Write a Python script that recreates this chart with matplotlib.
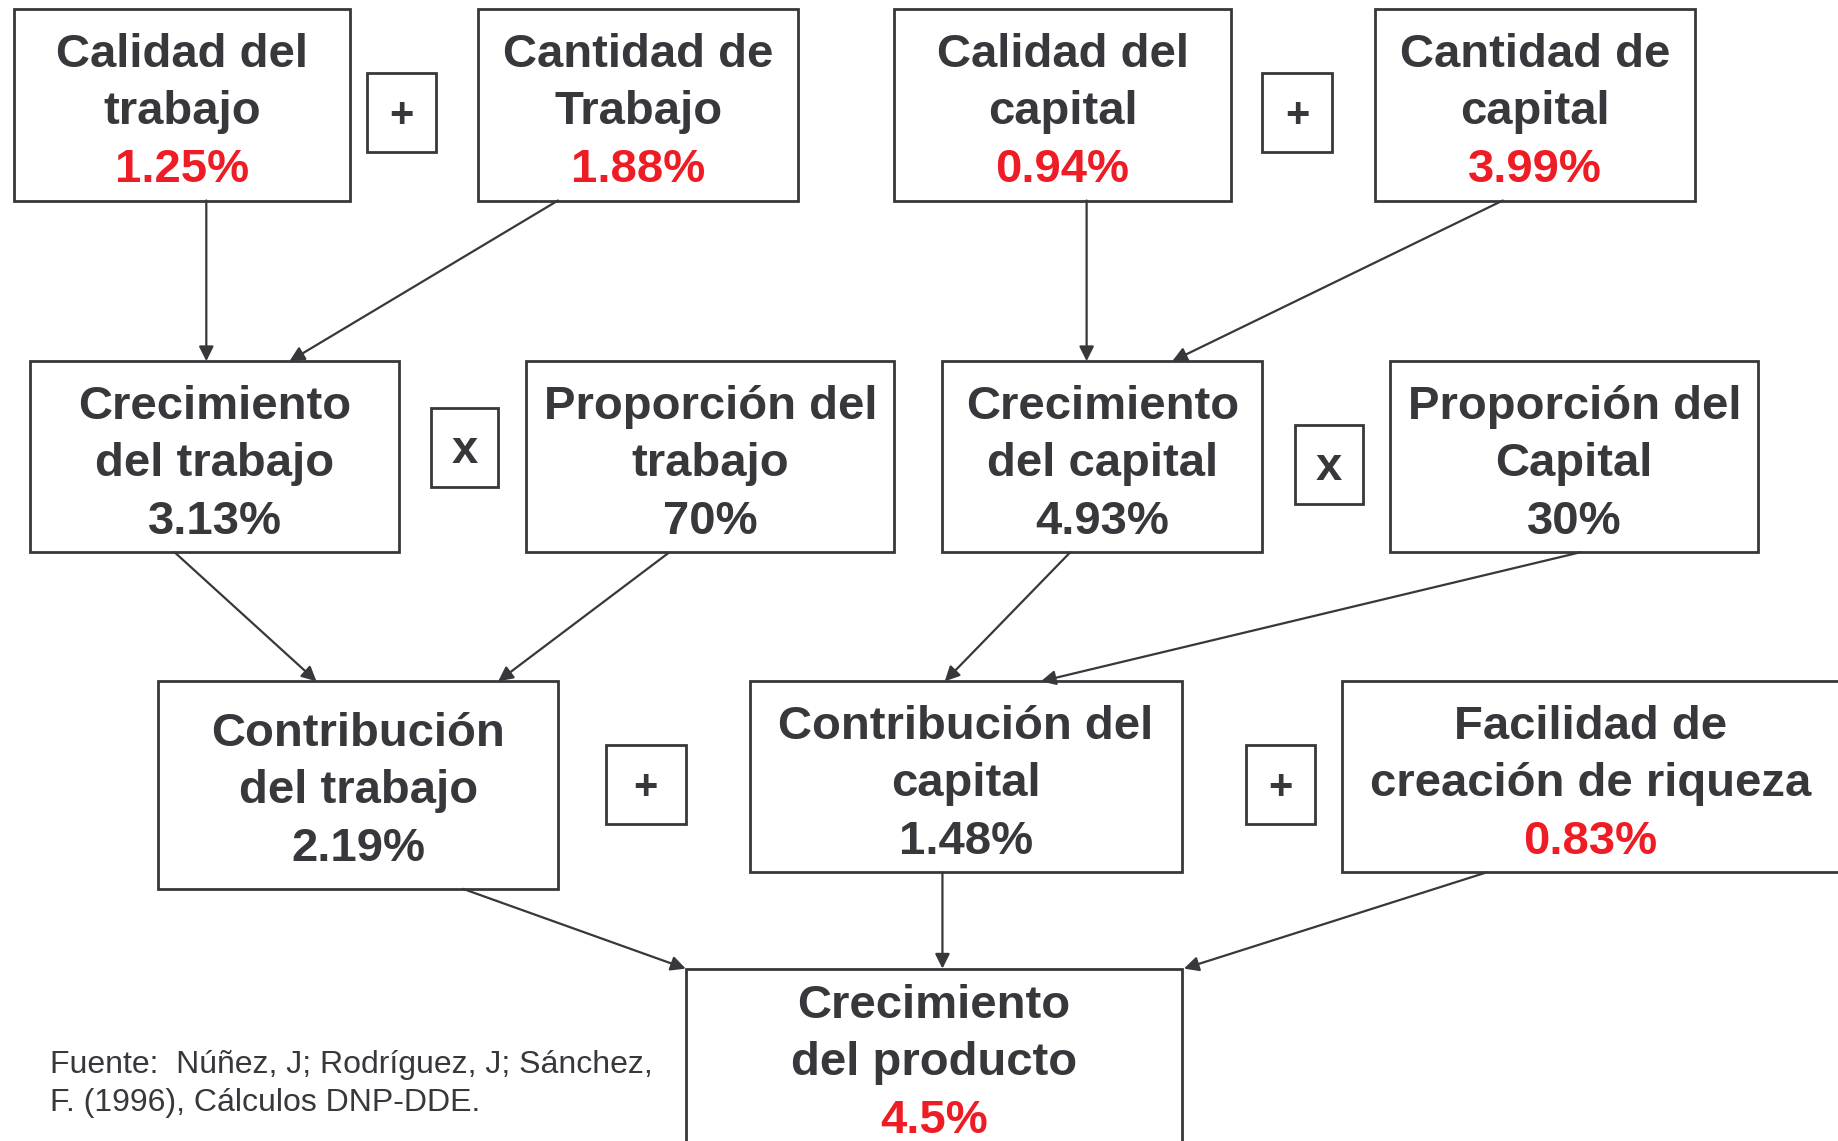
import matplotlib
matplotlib.use("Agg")
import matplotlib.pyplot as plt
from matplotlib import font_manager
from matplotlib.patches import Rectangle

# ---- data ----
titles = [
    ["Calidad del", "trabajo"],
    ["Cantidad de", "Trabajo"],
    ["Calidad del", "capital"],
    ["Cantidad de", "capital"],
    ["Crecimiento", "del trabajo"],
    ["Proporción del", "trabajo"],
    ["Crecimiento", "del capital"],
    ["Proporción del", "Capital"],
    ["Contribución", "del trabajo"],
    ["Contribución del", "capital"],
    ["Facilidad de", "creación de riqueza"],
    ["Crecimiento", "del producto"],
]
values = ["1.25%", "1.88%", "0.94%", "3.99%", "3.13%", "70%",
          "4.93%", "30%", "2.19%", "1.48%", "0.83%", "4.5%"]
highlight = [True, True, True, True, False, False,
             False, False, False, False, True, True]
operators = ["+", "+", "x", "x", "+", "+"]
# arrows: source box -> target box
links = [(0, 4), (1, 4), (2, 6), (3, 6), (4, 8), (5, 8), (6, 9), (7, 9),
         (8, 11), (9, 11), (10, 11)]
source = ["Fuente:  Núñez, J; Rodríguez, J; Sánchez,",
          "F. (1996), Cálculos DNP-DDE."]

# ---- layout (in pixels of the 1568x973 sketch) ----
boxes = [  # x0, y0, x1, y1, first baseline
    (12, 8, 299, 171, 57), (408, 8, 681, 171, 57),
    (763, 8, 1050, 171, 57), (1173, 8, 1446, 171, 57),
    (26, 308, 340, 471, 357), (449, 308, 763, 471, 357),
    (804, 308, 1077, 471, 357), (1186, 308, 1500, 471, 357),
    (135, 581, 476, 758, 636), (640, 581, 1008, 744, 630),
    (1145, 581, 1590, 744, 630), (585, 826, 1008, 1000, 868),
]
op_boxes = [(313, 62, 372, 130), (1077, 62, 1136, 130),
            (368, 348, 425, 415), (1105, 362, 1163, 430),
            (517, 635, 585, 703), (1063, 635, 1122, 703)]
link_pts = [((176, 171), (176, 308)), ((476, 171), (247, 308)),
            ((927, 171), (927, 308)), ((1282, 171), (1000, 308)),
            ((149, 471), (270, 581)), ((571, 471), (425, 581)),
            ((913, 471), (806, 581)), ((1348, 471), (888, 581)),
            ((395, 758), (585, 826)), ((804, 744), (804, 826)),
            ((1268, 744), (1010, 826))]

DARK = "#38373c"
RED = "#ee1c24"
LINE = 49


def find_font(name, bold):
    for f in font_manager.fontManager.ttflist:
        w = f.weight if isinstance(f.weight, int) else (700 if "bold" in str(f.weight) else 400)
        if f.name == name and f.style == "normal" and ((w >= 600) == bold):
            return font_manager.FontProperties(fname=f.fname)
    return font_manager.FontProperties(family="DejaVu Sans",
                                       weight="bold" if bold else "normal")


FB = find_font("Liberation Sans", True)
FR = find_font("Liberation Sans", False)

fig = plt.figure(figsize=(18.38, 11.41), dpi=100)
ax = fig.add_axes([0, 0, 1, 1])
ax.set_xlim(0, 1568)
ax.set_ylim(973, 0)
ax.axis("off")

for (a, b), ((x0, y0), (x1, y1)) in zip(links, link_pts):
    ax.annotate("", xy=(x1, y1), xytext=(x0, y0),
                arrowprops=dict(arrowstyle="-|>", color=DARK, lw=1.6,
                                mutation_scale=22, shrinkA=0, shrinkB=0))

for i, (x0, y0, x1, y1, base) in enumerate(boxes):
    ax.add_patch(Rectangle((x0, y0), x1 - x0, y1 - y0, facecolor="white",
                           edgecolor=DARK, lw=2, zorder=2))
    cx = (x0 + x1) / 2 if i != 10 else 1357
    lines = titles[i] + [values[i]]
    for k, s in enumerate(lines):
        col = RED if (k == 2 and highlight[i]) else DARK
        ax.text(cx, base + k * LINE, s, ha="center", va="baseline",
                fontproperties=FB, fontsize=34, color=col, zorder=3)

for sym, (x0, y0, x1, y1) in zip(operators, op_boxes):
    ax.add_patch(Rectangle((x0, y0), x1 - x0, y1 - y0, facecolor="white",
                           edgecolor=DARK, lw=2, zorder=2))
    ax.text((x0 + x1) / 2, (y0 + y1) / 2 + 3, sym, ha="center",
            va="center", fontproperties=FB,
            fontsize=30 if sym == "+" else 34, color=DARK, zorder=3)

for k, s in enumerate(source):
    ax.text(43, 908 + k * 33, s, ha="left", va="center", fontsize=23,
            fontproperties=FR, color=DARK)

fig.savefig("out.png", dpi=100)
